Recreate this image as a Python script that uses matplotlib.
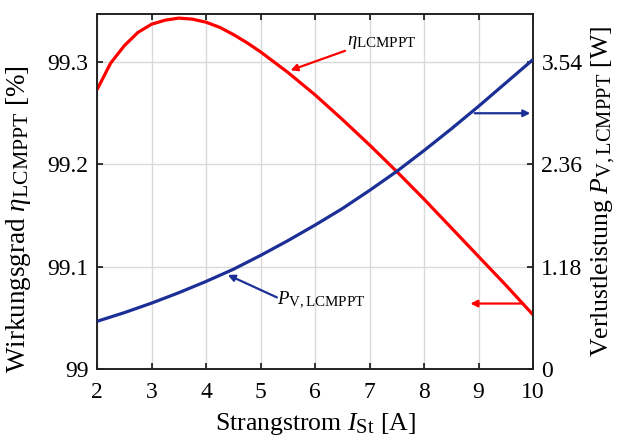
import matplotlib
matplotlib.use("Agg")
import matplotlib.pyplot as plt
try:
    import matplotlib._mathtext as _mt
    _mt.SHRINK_FACTOR = 0.8
except Exception:
    pass

plt.rcParams['font.family'] = ['Liberation Serif', 'DejaVu Serif']
plt.rcParams['mathtext.fontset'] = 'custom'
plt.rcParams['mathtext.rm'] = 'Liberation Serif'
plt.rcParams['mathtext.it'] = 'Liberation Serif:italic'
plt.rcParams['mathtext.bf'] = 'Liberation Serif:bold'

# Data
current = [2.0, 2.25, 2.5, 2.75, 3.0, 3.25, 3.5, 3.75, 4.0, 4.25, 4.5, 4.75, 5.0,
           5.25, 5.5, 5.75, 6.0, 6.5, 7.0, 7.5, 8.0, 8.5, 9.0, 9.5, 10.0]
efficiency = [99.273, 99.299, 99.316, 99.329, 99.337, 99.341, 99.343, 99.342, 99.339,
              99.334, 99.327, 99.319, 99.310, 99.300, 99.290, 99.279, 99.268, 99.244,
              99.219, 99.193, 99.166, 99.138, 99.110, 99.082, 99.053]
current_p = [2.0, 2.5, 3.0, 3.5, 4.0, 4.5, 5.0, 5.5, 6.0, 6.5, 7.0, 7.5, 8.0, 8.5,
             9.0, 9.5, 10.0]
loss = [0.55, 0.65, 0.76, 0.88, 1.01, 1.15, 1.31, 1.48, 1.66, 1.85, 2.06, 2.28, 2.52,
        2.77, 3.03, 3.30, 3.57]

xticks = [2, 3, 4, 5, 6, 7, 8, 9, 10]
yticks_left = [99.0, 99.1, 99.2, 99.3]
yticklabels_left = ['99', '99.1', '99.2', '99.3']
yticks_right = [0, 1.18, 2.36, 3.54]
yticklabels_right = ['0', '1.18', '2.36', '3.54']

red = '#ff0000'
blue = '#1b2f96'

fig = plt.figure(figsize=(6.22, 4.38), dpi=100)
ax = fig.add_axes([0.156, 0.1575, 0.701, 0.8105])
ax2 = ax.twinx()

ax.plot(current, efficiency, color=red, lw=2.3, solid_capstyle='butt', zorder=3)
ax2.plot(current_p, loss, color=blue, lw=2.3, solid_capstyle='butt', zorder=3)

ax.set_xlim(2, 10)
ax.set_ylim(99.0, 99.347)
ax2.set_ylim(0, 0.347 * 11.8)

ax.set_xticks(xticks)
ax.set_xticklabels([str(v) for v in xticks])
ax.set_yticks(yticks_left)
ax.set_yticklabels(yticklabels_left)
ax2.set_yticks(yticks_right)
ax2.set_yticklabels(yticklabels_right)

ax.grid(True, color='#d9d9d9', lw=1.0)
ax.set_axisbelow(True)

fs = 17
ax.tick_params(axis='both', which='major', direction='in', labelsize=fs, length=4,
               width=1.1, top=True, right=False)
ax.tick_params(axis='x', pad=9)
ax.tick_params(axis='y', pad=6)
ax2.tick_params(axis='y', direction='in', labelsize=fs, length=4, width=1.1, pad=6)
for a in (ax, ax2):
    for s in a.spines.values():
        s.set_linewidth(1.2)
        s.set_color('#222222')

lfs = 18.5
ax.set_xlabel(r'Strangstrom $I_{\mathrm{St}}$ [A]', fontsize=lfs, labelpad=6)
ax.set_ylabel(r'Wirkungsgrad $\eta_{\mathrm{LCMPPT}}$ [%]', fontsize=19.5)
ax.yaxis.set_label_coords(-0.148, 0.4225)
ax2.set_ylabel(r'Verlustleistung $P_{\mathrm{V,LCMPPT}}$ [W]', fontsize=lfs, labelpad=5)

# Annotations (in data coordinates of left axis)
ax.annotate('', xy=(5.55, 99.292), xytext=(6.55, 99.311),
            arrowprops=dict(arrowstyle='-|>', color=red, lw=1.6, mutation_scale=10,
                            shrinkA=0, shrinkB=0))
ax.text(6.58, 99.319, r'$\eta_{\mathrm{LCMPPT}}$', fontsize=13.5, ha='left', va='center')

ax.annotate('', xy=(4.4, 99.092), xytext=(5.3, 99.070),
            arrowprops=dict(arrowstyle='-|>', color=blue, lw=1.6, mutation_scale=10,
                            shrinkA=0, shrinkB=0))
ax.text(5.3, 99.068, r'$P_{\mathrm{V,LCMPPT}}$', fontsize=13.5, ha='left', va='center')

ax.annotate('', xy=(9.95, 99.250), xytext=(8.93, 99.250),
            arrowprops=dict(arrowstyle='-|>', color=blue, lw=1.6, mutation_scale=10,
                            shrinkA=0, shrinkB=0))
ax.annotate('', xy=(8.85, 99.064), xytext=(9.82, 99.064),
            arrowprops=dict(arrowstyle='-|>', color=red, lw=1.6, mutation_scale=10,
                            shrinkA=0, shrinkB=0))

fig.savefig('out.png', dpi=100)
